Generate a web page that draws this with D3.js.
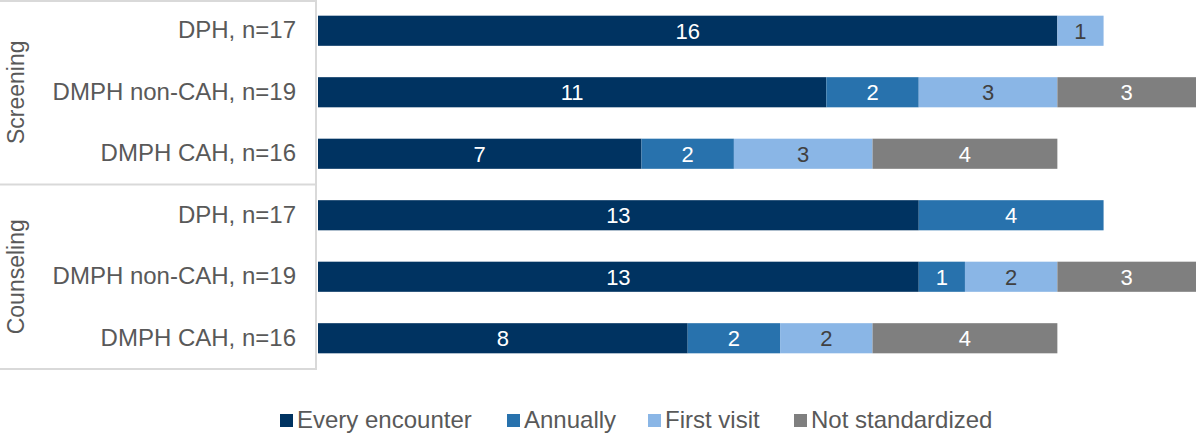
<!DOCTYPE html>
<html lang="en">
<head>
<meta charset="utf-8">
<title>Screening and counseling frequency</title>
<script src="https://cdn.jsdelivr.net/npm/d3@7"></script>
<style>
  body { margin: 0; background: #fff; }
  text { font-family: "Liberation Sans", Arial, sans-serif; }
</style>
</head>
<body>
<div id="chart"></div>
<script>
    // data
    var groups = ["Screening", "Counseling"];
    var rowLabels = ["DPH, n=17", "DMPH non-CAH, n=19", "DMPH CAH, n=16",
                     "DPH, n=17", "DMPH non-CAH, n=19", "DMPH CAH, n=16"];
    var rowGroup = [0, 0, 0, 1, 1, 1];
    var seriesNames = ["Every encounter", "Annually", "First visit", "Not standardized"];
    var everyEncounter = [16, 11, 7, 13, 13, 8];
    var annually       = [0, 2, 2, 4, 1, 2];
    var firstVisit     = [1, 3, 3, 0, 2, 2];
    var notStandard    = [0, 3, 4, 0, 3, 4];

    var colors = ["#003361", "#2872ad", "#8ab6e6", "#7f7f7f"];
    var labelColors = ["#ffffff", "#ffffff", "#404040", "#ffffff"];

    var w = 1196, h = 435;
    var left = 318, right = 1196;
    var plotTop = 0, plotBottom = 369;

    var svg = d3.select("#chart").append("svg")
        .attr("width", w)
        .attr("height", h);

    // build rows for the stack
    var rows = rowLabels.map(function (d, i) {
        return {
            id: i,
            "Every encounter": everyEncounter[i],
            "Annually": annually[i],
            "First visit": firstVisit[i],
            "Not standardized": notStandard[i]
        };
    });

    var stacked = d3.stack().keys(seriesNames)(rows);

    var x = d3.scaleLinear().domain([0, 19]).range([left, right]);
    var y = d3.scaleBand()
        .domain(d3.range(rowLabels.length))
        .range([plotTop, plotBottom])
        .paddingInner(0.51)
        .paddingOuter(0.255);

    var layers = svg.selectAll("g.layer")
        .data(stacked)
        .enter()
        .append("g")
        .attr("class", "layer")
        .attr("fill", function (d, i) { return colors[i]; });

    layers.selectAll("rect")
        .data(function (d) { return d.filter(function (s) { return s[1] - s[0] > 0; }); })
        .enter()
        .append("rect")
        .attr("x", function (d) { return x(d[0]); })
        .attr("y", function (d) { return y(d.data.id); })
        .attr("width", function (d) { return x(d[1]) - x(d[0]); })
        .attr("height", y.bandwidth());

    // value labels
    stacked.forEach(function (layer, li) {
        svg.append("g").selectAll("text")
            .data(layer.filter(function (s) { return s[1] - s[0] > 0; }))
            .enter()
            .append("text")
            .attr("x", function (d) { return (x(d[0]) + x(d[1])) / 2; })
            .attr("y", function (d) { return y(d.data.id) + y.bandwidth() / 2; })
            .attr("dy", "0.36em")
            .attr("text-anchor", "middle")
            .attr("font-size", "22px")
            .attr("fill", labelColors[li])
            .text(function (d) { return d[1] - d[0]; });
    });

    // category axis on the left
    var yAxis = d3.axisLeft(y)
        .tickSize(0)
        .tickPadding(22)
        .tickFormat(function (d) { return rowLabels[d]; });

    var axisG = svg.append("g")
        .attr("transform", "translate(" + left + ",0)")
        .call(yAxis);
    axisG.select(".domain").remove();
    axisG.selectAll("text")
        .attr("font-size", "24px")
        .attr("fill", "#595959")
        .style("font-family", "'Liberation Sans', Arial, sans-serif");

    // group frame lines
    var lineColor = "#d9d9d9";
    var splitY = (y(2) + y.bandwidth() + y(3)) / 2;
    svg.append("line")
        .attr("x1", 316).attr("x2", 316)
        .attr("y1", 0).attr("y2", plotBottom + 1)
        .attr("stroke", lineColor).attr("stroke-width", 2);
    [1, splitY, plotBottom].forEach(function (yy) {
        svg.append("line")
            .attr("x1", 0).attr("x2", 316)
            .attr("y1", yy).attr("y2", yy)
            .attr("stroke", lineColor).attr("stroke-width", 2);
    });

    // group labels, rotated
    groups.forEach(function (g, gi) {
        var ids = d3.range(rowLabels.length).filter(function (i) { return rowGroup[i] === gi; });
        var cy = (y(ids[0]) + y(ids[ids.length - 1]) + y.bandwidth()) / 2;
        svg.append("text")
            .attr("transform", "translate(24," + cy + ")rotate(-90)")
            .attr("text-anchor", "middle")
            .attr("font-size", "23px")
            .attr("fill", "#595959")
            .text(g);
    });

    // legend
    var legendX = [280, 507, 648, 794];
    var legend = svg.append("g").selectAll("g")
        .data(seriesNames)
        .enter()
        .append("g")
        .attr("transform", function (d, i) { return "translate(" + legendX[i] + ",414)"; });
    legend.append("rect")
        .attr("width", 13)
        .attr("height", 13)
        .attr("fill", function (d, i) { return colors[i]; });
    legend.append("text")
        .attr("x", 17)
        .attr("y", 14)
        .attr("font-size", "24px")
        .attr("fill", "#595959")
        .text(function (d) { return d; });
</script>
</body>
</html>
